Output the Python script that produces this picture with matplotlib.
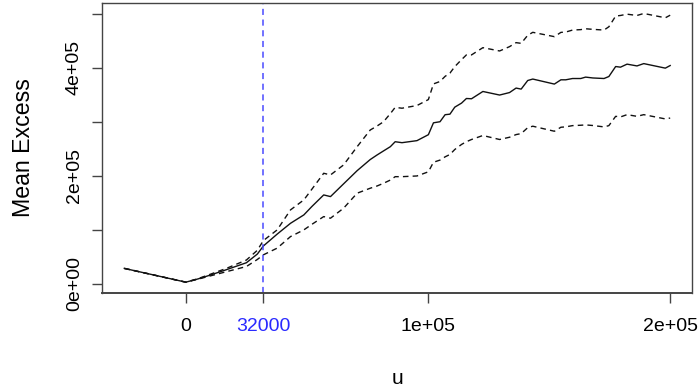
import numpy as np
import matplotlib
matplotlib.use('Agg')
import matplotlib.pyplot as plt

# threshold u and mean excess with upper / lower confidence bounds
u = [-25400, 0, 5000, 10000, 17000, 25000, 29500, 32000, 37700, 43200,
     48700, 52000, 56900, 59700, 65100, 70700, 76100, 78900, 81600, 84400,
     86400, 89200, 95400, 100100, 102200, 104900, 107000, 109000, 111000, 113800,
     115800, 117900, 122600, 129500, 133600, 136300, 138400, 141100, 143200, 152100,
     154800, 156800, 159600, 163000, 165000, 168000, 172600, 174600, 177400, 179400,
     182100, 186200, 189000, 197900, 199900]

mean_excess = [28500, 3000, 9000, 16000, 26500, 39000, 55000, 70000, 92000, 112000,
               127500, 143000, 164500, 161400, 185000, 209400, 230000, 238400, 246000, 253800,
               263000, 261200, 265000, 276000, 298000, 300000, 313000, 314000, 327000, 334500,
               343000, 342500, 356000, 349400, 354000, 362300, 360400, 376300, 379000, 369700,
               377600, 377600, 380000, 380000, 382600, 381000, 380000, 383700, 402200, 401000,
               406600, 403300, 407600, 399200, 404000]

upper = [28500, 3000, 9500, 17500, 29000, 44000, 62000, 80000, 99800, 136800,
         155300, 175000, 204600, 201500, 220000, 253800, 284700, 292000, 300000, 315000,
         326600, 325000, 330000, 341000, 370000, 374500, 384000, 390000, 402000, 415000,
         423700, 423700, 437100, 431000, 439000, 446400, 445100, 460000, 465500, 457500,
         465400, 466000, 469700, 470500, 472100, 471000, 469700, 475800, 495600, 496700,
         499100, 496700, 500400, 492400, 497200]

lower = [28500, 3000, 8500, 14500, 22700, 32000, 45000, 53600, 66000, 87400,
         99800, 110000, 124400, 121400, 139900, 167700, 176900, 181000, 186100, 192000,
         198300, 198300, 199600, 207300, 225000, 229000, 235000, 239400, 248600, 258000,
         263000, 267100, 274500, 267100, 271300, 276200, 278000, 289000, 291700, 282400,
         289800, 290500, 292800, 293500, 294100, 293000, 290400, 292800, 310000, 308900,
         313100, 310000, 313100, 305200, 306800]

threshold = 32000
x_ticks = [0, threshold, 100000, 200000]
x_labels = ['0', '32000', '1e+05', '2e+05']
y_ticks = [0, 100000, 200000, 300000, 400000, 500000]
y_labels = ['0e+00', '', '2e+05', '', '4e+05', '']

plt.rcParams['font.family'] = ['Liberation Sans', 'DejaVu Sans']

fig = plt.figure(figsize=(6.99, 3.89), dpi=100)
ax = fig.add_axes([0.1466, 0.247, 0.8434, 0.746])

ax.plot(u, mean_excess, color='#111111', lw=1.0)
ax.plot(u, upper, color='#111111', lw=1.0, dashes=(4, 3))
ax.plot(u, lower, color='#111111', lw=1.0, dashes=(4, 3))
ax.axvline(threshold, color='#4a4aff', lw=1.1, dashes=(4, 3))

ax.margins(x=0.04, y=0.04)

for s in ax.spines.values():
  s.set_color('#444444')
  s.set_linewidth(1.0)
ax.spines['bottom'].set_linewidth(1.4)

ax.set_xticks(x_ticks)
ax.set_xticklabels(x_labels)
ax.get_xticklabels()[1].set_color('#2a2aff')
ax.set_yticks(y_ticks)
ax.set_yticklabels(y_labels, rotation=90, va='center')

ax.tick_params(axis='both', direction='out', length=7.2, width=1.0,
               color='#444444', labelsize=14)
ax.tick_params(axis='x', pad=11)
ax.tick_params(axis='y', pad=7)

ax.set_xlabel('u', fontsize=15, labelpad=24)
ax.set_ylabel('Mean Excess', fontsize=16.7, labelpad=22)

fig.savefig('out.png', dpi=100)
